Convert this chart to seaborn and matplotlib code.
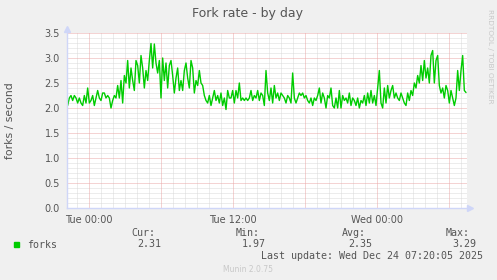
import numpy as np
import pandas as pd
import matplotlib
matplotlib.use("Agg")
import matplotlib.pyplot as plt
import matplotlib.dates as mdates
import seaborn as sns

# ---- data ----
forks_part1 = [2.25, 2.05, 2.2, 2.25, 2.15, 2.25, 2.2, 2.1, 2.2, 2.1, 2.05, 2.25, 2.1, 2.4, 2.1,
               2.15, 2.25, 2.05, 2.2, 2.35, 2.2, 2.15, 2.3, 2.3, 2.2, 2.25, 2.2, 2.0, 2.15, 2.25,
               2.2, 2.45, 2.2, 2.55, 2.1, 2.65, 2.5, 2.95, 2.4, 2.8, 2.55, 2.35, 2.95, 2.85, 2.5,
               3.05, 2.8, 2.4, 2.75, 2.55, 2.95, 3.29, 2.8, 3.28, 2.9, 2.7, 2.95, 2.2, 3.0, 2.55,
               2.9, 2.4, 2.85, 2.95, 2.65, 2.3, 2.6, 2.8, 2.35, 2.55, 2.35, 2.75, 2.9, 2.6, 2.4,
               2.95, 2.8, 2.3, 2.55, 2.45, 2.75, 2.5, 2.45, 2.25, 2.15, 2.1, 2.25, 2.05, 2.2, 2.35,
               2.15, 2.25, 2.1, 2.3, 2.05, 2.2, 1.97, 2.35, 2.2, 2.2, 2.35, 2.1, 2.35, 2.2, 2.5,
               2.15, 2.2, 2.15, 2.2, 2.15, 2.2]
forks_part2 = [2.35, 2.15, 2.25, 2.2, 2.35, 2.15, 2.3, 2.25, 2.05, 2.75, 2.3, 2.15, 2.4, 2.1,
               2.45, 2.2, 2.3, 2.15, 2.3, 2.25, 2.2, 2.1, 2.25, 2.2, 2.1, 2.7, 2.2, 2.1, 2.2,
               2.3, 2.25, 2.3, 2.2, 2.25, 2.15, 2.1, 2.2, 2.05, 2.2, 2.15, 2.25, 2.4, 2.1, 2.3,
               2.2, 2.0, 2.25, 2.2, 2.4, 2.05, 2.0, 2.2, 2.0, 2.35, 2.0, 2.25, 2.15, 2.2, 2.1,
               2.3, 2.05, 2.2, 2.15, 2.05, 2.2, 2.0, 2.15, 2.1, 2.25, 2.05, 2.3, 2.1, 2.35, 2.1,
               2.25, 2.05, 2.4, 2.75, 2.1, 2.0, 2.4, 2.1, 2.45, 2.2, 2.35, 2.45, 2.2, 2.3, 2.2,
               2.15, 2.3, 2.2, 2.1, 2.05, 2.3, 2.15, 2.35, 2.25, 2.5, 2.4, 2.65, 2.5, 2.85, 2.55,
               2.95, 2.6, 2.8, 2.5, 3.05, 3.15, 2.5, 2.95, 3.05, 2.45, 2.3, 2.4, 2.2, 2.45, 2.35,
               2.1, 2.35, 2.2, 2.05, 2.2, 2.75, 2.35, 2.75, 3.05, 2.35, 2.31]
forks = forks_part1 + forks_part2
times = pd.date_range(end="2025-12-24 07:25:00", periods=len(forks), freq="500s")

title = "Fork rate - by day"
ylabel = "forks / second"
legend_name = "forks"
stat_names = ["Cur:", "Min:", "Avg:", "Max:"]
stat_values = ["2.31", "1.97", "2.35", "3.29"]
last_update = "Last update: Wed Dec 24 07:20:05 2025"
footer = "Munin 2.0.75"
side_text = "RRDTOOL / TOBI OETIKER"

df = pd.DataFrame({"time": times, "forks": forks})

# ---- style ----
sns.set_style("white")
plt.rcParams["font.family"] = ["DejaVu Sans"]
BACK = "#F0F0F0"
FONT = "#555555"
AXIS = "#CFD6F8"
GREEN = "#00CC00"
MGRID = "#EBA8A8"
GRID = "#DADADA"

fig = plt.figure(figsize=(4.97, 2.80), dpi=100, facecolor=BACK)
ax = fig.add_axes([67 / 497, 72 / 280, 400 / 497, 175 / 280])
ax.set_facecolor("white")

sns.lineplot(data=df, x="time", y="forks", ax=ax, color=GREEN, linewidth=1.0, legend=False)

x0, x1 = pd.Timestamp("2025-12-22 22:10"), pd.Timestamp("2025-12-24 07:30")
ax.set_xlim(x0, x1)
ax.set_ylim(0, 3.5)

ax.xaxis.set_major_locator(mdates.HourLocator(byhour=[0, 12]))
ax.xaxis.set_major_formatter(mdates.DateFormatter("%a %H:%M"))
ax.xaxis.set_minor_locator(mdates.HourLocator())
ax.set_yticks(np.arange(0, 3.51, 0.5))
ax.yaxis.set_major_formatter(matplotlib.ticker.FormatStrFormatter("%.1f"))
ax.yaxis.set_minor_locator(matplotlib.ticker.MultipleLocator(0.1))

# grid lines (1 px dotted)
ax.grid(False)
lw = 0.72
dots = (0, (1, 1))
hours = pd.date_range(x0.ceil("h"), x1, freq="h")
for h in hours:
    major = h.hour % 6 == 0
    ax.axvline(h, color=MGRID if major else GRID, linestyle=dots, linewidth=lw,
               zorder=0.6 if major else 0.5, snap=True)
for v in np.arange(0.1, 3.51, 0.1):
    major = abs(v * 2 - round(v * 2)) < 1e-6
    ax.axhline(v, color=MGRID if major else GRID, linestyle=dots, linewidth=lw,
               zorder=0.6 if major else 0.5, snap=True)

for s in ["top", "right"]:
    ax.spines[s].set_visible(False)
for s in ["left", "bottom"]:
    ax.spines[s].set_color(AXIS)
    ax.spines[s].set_linewidth(1.0)
ax.plot(0, 1.025, marker="^", color=AXIS, markersize=4, transform=ax.transAxes, clip_on=False)
ax.plot(1.008, 0, marker=">", color=AXIS, markersize=4, transform=ax.transAxes, clip_on=False)

ax.tick_params(axis="both", which="major", labelsize=7, labelcolor=FONT, color=AXIS,
               length=2, width=0.8, pad=3)
ax.tick_params(axis="both", which="minor", length=1.5, width=0.6, color=AXIS)
for lbl in ax.get_xticklabels():
    lbl.set_horizontalalignment("center")

ax.set_xlabel("")
ax.set_ylabel(ylabel, fontsize=7.8, color=FONT)
ax.yaxis.set_label_coords(-52 / 400, 0.5)

fig.text(248 / 497, 1 - 13 / 280, title, ha="center", va="center", fontsize=9, color=FONT)
fig.text(490 / 497, 1 - 56 / 280, side_text, rotation=270, ha="center", va="center",
         fontsize=5.3, color="#C8C8C8")

mono = "DejaVu Sans Mono"
fig.patches.append(matplotlib.patches.Rectangle((14 / 497, 1 - 247 / 280), 5 / 497, 5 / 280,
                                                transform=fig.transFigure, color=GREEN))
fig.text(27 / 497, 1 - 245 / 280, legend_name, ha="left", va="center", fontsize=7.2,
         family=mono, color=FONT)
stat_x = [155, 260, 366, 470]
for sx, name, val in zip(stat_x, stat_names, stat_values):
    fig.text(sx / 497, 1 - 233 / 280, name, ha="right", va="center", fontsize=7.2,
             family=mono, color=FONT)
    fig.text((sx + 6) / 497, 1 - 244 / 280, val, ha="right", va="center", fontsize=7.2,
             family=mono, color=FONT)
fig.text(483 / 497, 1 - 256 / 280, last_update, ha="right", va="center", fontsize=7.2,
         family=mono, color=FONT)
fig.text(248 / 497, 1 - 269 / 280, footer, ha="center", va="center", fontsize=5.5,
         color="#C8C8C8")

fig.savefig("out.png", dpi=100, facecolor=BACK)
